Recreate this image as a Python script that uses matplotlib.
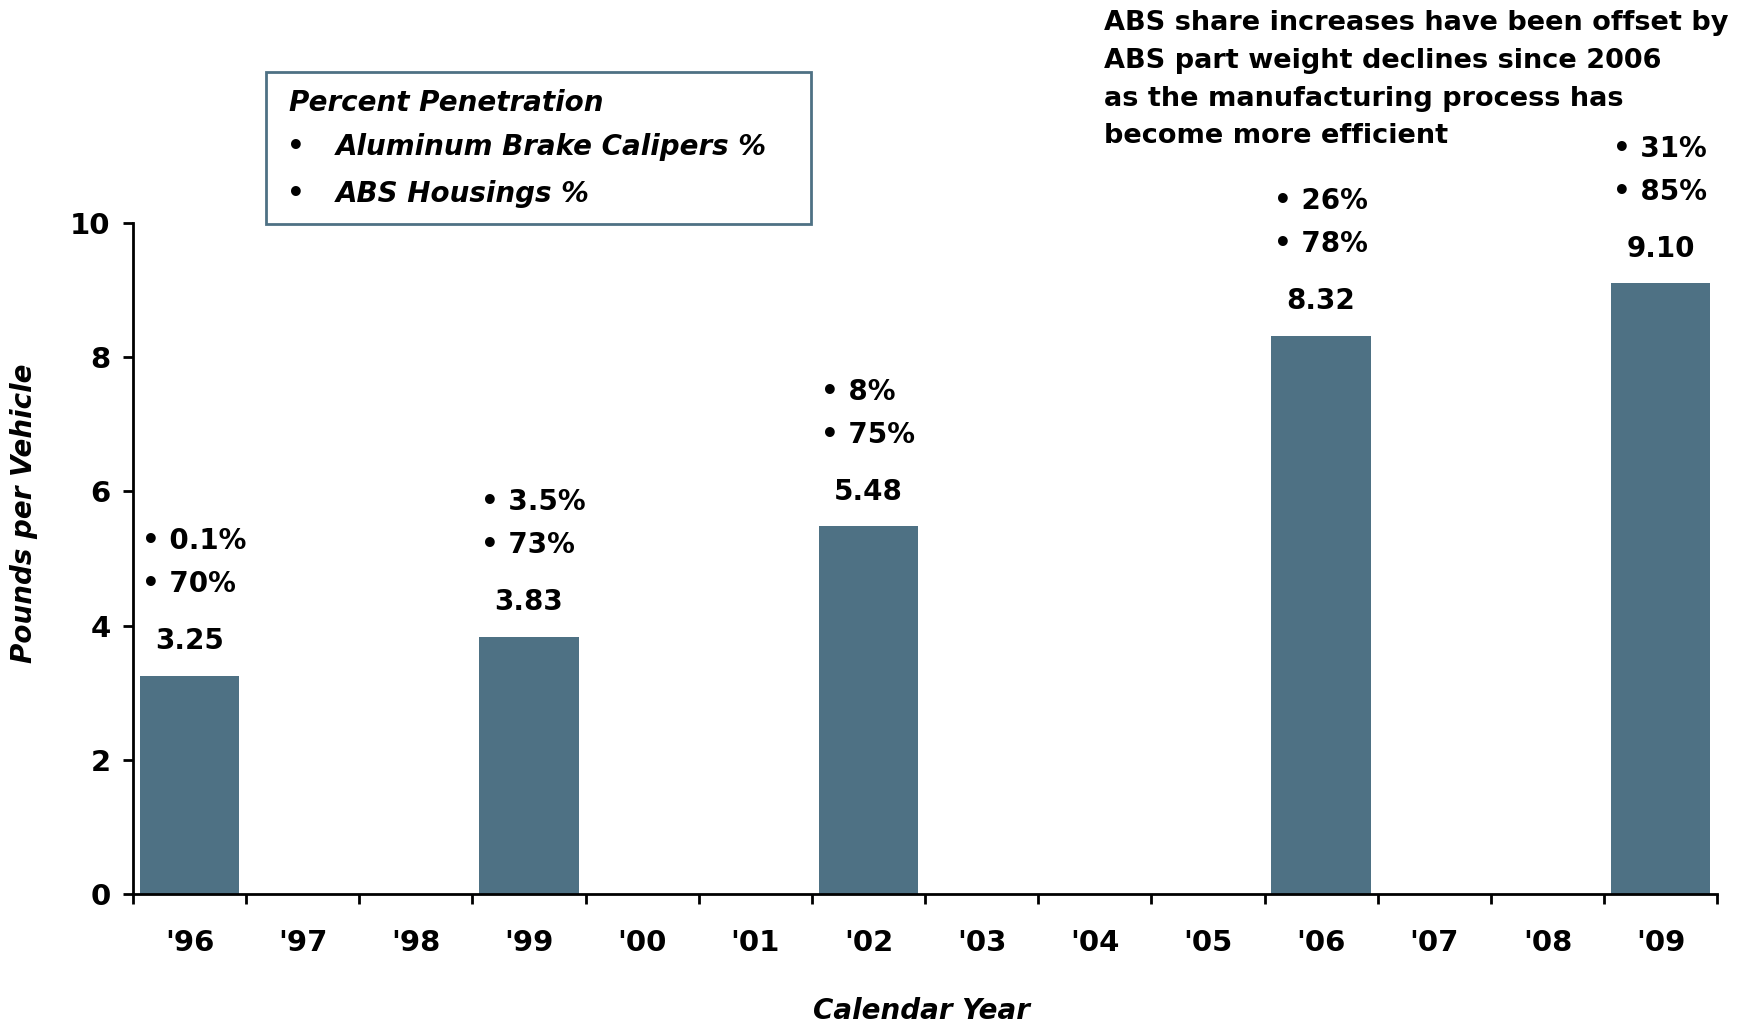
import numpy as np
import matplotlib.pyplot as plt
from matplotlib.patches import Rectangle

plt.rcParams['font.family'] = ['DejaVu Sans']
plt.rcParams['font.weight'] = 'bold'

years = ["'96", "'97", "'98", "'99", "'00", "'01", "'02", "'03", "'04", "'05", "'06", "'07", "'08", "'09"]
bar_years = ["'96", "'99", "'02", "'06", "'09"]
pounds = [3.25, 3.83, 5.48, 8.32, 9.10]
caliper_pct = ["0.1%", "3.5%", "8%", "26%", "31%"]
abs_pct = ["70%", "73%", "75%", "78%", "85%"]
note_lines = ["ABS share increases have been offset by",
              "ABS part weight declines since 2006",
              "as the manufacturing process has",
              "become more efficient"]

bar_color = '#4e7184'

fig = plt.figure(figsize=(17.38, 10.26), dpi=100)
ax = fig.add_axes([0.0765, 0.1287, 0.9115, 0.654])

xpos = [years.index(y) for y in bar_years]
ax.bar(xpos, pounds, width=0.88, color=bar_color)

for x, v, c, a in zip(xpos, pounds, caliper_pct, abs_pct):
    ax.annotate(f'{v:.2f}', (x, v), xytext=(0, 25), textcoords='offset points',
                ha='center', va='center', fontsize=20, fontweight='bold')
    ax.annotate(f'• {a}', (x - 0.42, v), xytext=(0, 66), textcoords='offset points',
                ha='left', va='center', fontsize=20, fontweight='bold')
    ax.annotate(f'• {c}', (x - 0.42, v), xytext=(0, 97), textcoords='offset points',
                ha='left', va='center', fontsize=20, fontweight='bold')

ax.set_xlim(-0.5, len(years) - 0.5)
ax.set_ylim(0, 10)
ax.set_yticks(np.arange(0, 11, 2))
ax.set_xticks(np.arange(len(years)))
ax.set_xticklabels(years)
ax.set_xticks(np.arange(len(years) + 1) - 0.5, minor=True)
ax.tick_params(axis='x', which='major', length=0, pad=25, labelsize=21)
ax.tick_params(axis='x', which='minor', length=7, width=2, direction='out')
ax.tick_params(axis='y', length=7, width=2, direction='out', pad=9, labelsize=21)
for lab in ax.get_xticklabels() + ax.get_yticklabels():
    lab.set_fontweight('bold')

for s in ['top', 'right']:
    ax.spines[s].set_visible(False)
for s in ['left', 'bottom']:
    ax.spines[s].set_linewidth(2)

fig.text(0.014, 0.500, 'Pounds per Vehicle', rotation=90, ha='center', va='center',
         fontsize=20, fontweight='bold', style='italic')
fig.text(0.530, 0.015, 'Calendar Year', ha='center', va='center',
         fontsize=20, fontweight='bold', style='italic')

# legend-like box
fig.patches.append(Rectangle((0.153, 0.7817), 0.3136, 0.148, transform=fig.transFigure,
                             fill=False, edgecolor=bar_color, linewidth=2))
fig.text(0.166, 0.900, 'Percent Penetration', ha='left', va='center',
         fontsize=20, fontweight='bold', style='italic')
for yy, txt in [(0.857, 'Aluminum Brake Calipers %'), (0.811, 'ABS Housings %')]:
    fig.text(0.165, yy, '•', ha='left', va='center', fontsize=20)
    fig.text(0.193, yy, txt, ha='left', va='center', fontsize=20, fontweight='bold', style='italic')

# note at top right, one text per line
for yy, line in zip([0.9773, 0.9405, 0.9039, 0.8672], note_lines):
    fig.text(0.635, yy, line, ha='left', va='center', fontsize=19.5, fontweight='bold')

fig.savefig('out.png', dpi=100)
